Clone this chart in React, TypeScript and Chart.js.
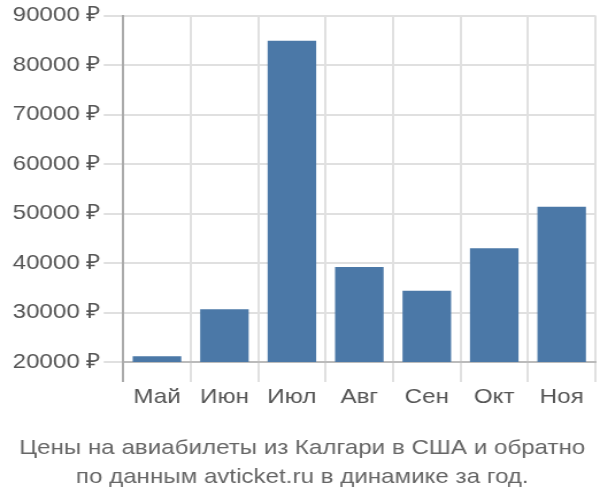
import { useEffect, useRef } from 'react';
import { Chart, registerables } from 'chart.js';

Chart.register(...registerables);

// месяцы и цены (₽)
const months = ['Май', 'Июн', 'Июл', 'Авг', 'Сен', 'Окт', 'Ноя'];
const prices = [21200, 30700, 84900, 39200, 34400, 43000, 51400];
const titleLines = [
  'Цены на авиабилеты из Калгари в США и обратно',
  'по данным avticket.ru в динамике за год.',
];

const FONT = '"Liberation Sans", Arial, sans-serif';
// картинка в оригинале растянута по горизонтали
const W = 522;
const H = 500;

export default function App() {
  const canvasRef = useRef<HTMLCanvasElement>(null);

  useEffect(() => {
    document.body.style.margin = '0';
    if (!canvasRef.current) return;

    const chart = new Chart(canvasRef.current, {
      type: 'bar',
      data: {
        labels: months,
        datasets: [
          {
            data: prices,
            backgroundColor: '#4b78a7',
            barPercentage: 0.72,
            categoryPercentage: 1,
          },
        ],
      },
      options: {
        animation: false,
        responsive: false,
        layout: { padding: { top: 1, right: 4, left: 8, bottom: 9 } },
        plugins: {
          legend: { display: false },
          tooltip: { enabled: false },
          title: {
            display: true,
            position: 'bottom',
            text: titleLines,
            color: '#666',
            font: { family: FONT, size: 21, weight: 'normal', lineHeight: 1.35 },
            padding: { top: 21, bottom: 0 },
          },
        },
        scales: {
          x: {
            grid: {
              color: (ctx: any) => (ctx.index === 0 ? '#aaa' : '#e0e0e0'),
              lineWidth: 2,
              tickLength: 20,
              offset: true,
            },
            border: { color: '#bbb', width: 2 },
            ticks: {
              color: '#555',
              font: { family: FONT, size: 21 },
              padding: 3,
            },
          },
          y: {
            min: 20000,
            max: 90000,
            grid: { color: '#e0e0e0', lineWidth: 2, tickLength: 17 },
            border: { color: '#aaa', width: 2 },
            ticks: {
              stepSize: 10000,
              color: '#555',
              font: { family: FONT, size: 21 },
              padding: 3,
              callback: (v: any) => `${v} ₽`,
            },
          },
        },
      },
    });

    return () => chart.destroy();
  }, []);

  return (
    <div style={{ width: 600, height: 500, overflow: 'hidden' }}>
      <div style={{ width: W, height: H, transform: `scaleX(${600 / W})`, transformOrigin: '0 0' }}>
        <canvas ref={canvasRef} width={W} height={H} />
      </div>
    </div>
  );
}
